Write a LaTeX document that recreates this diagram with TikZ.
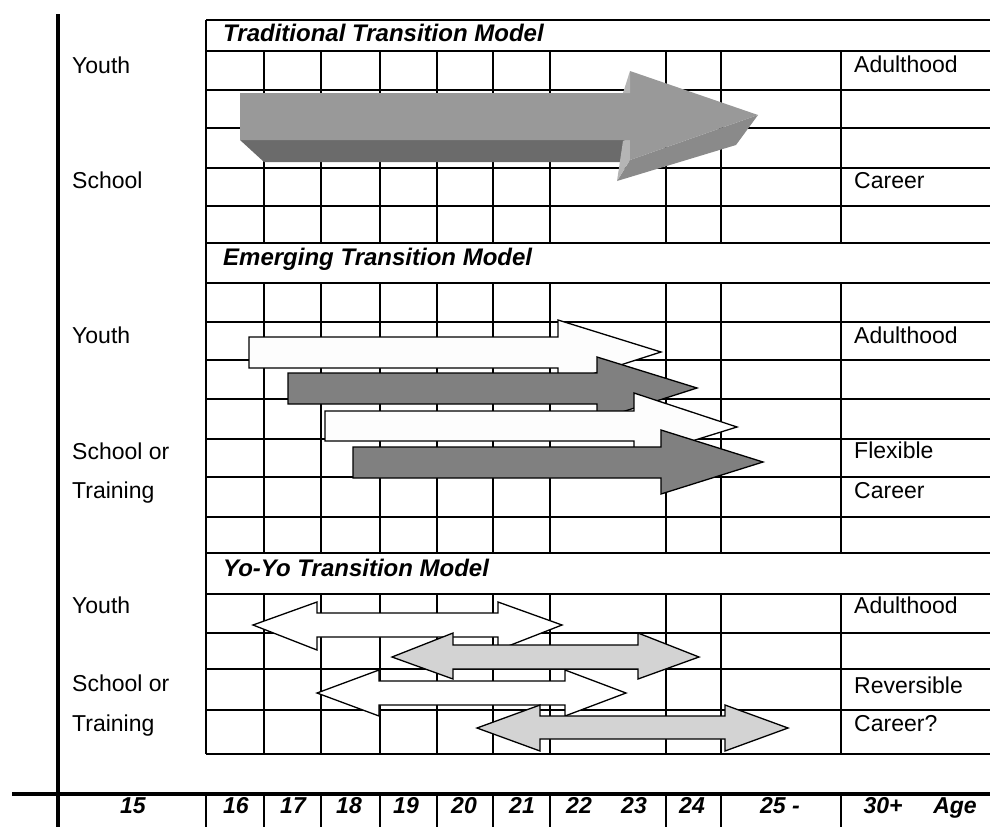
\documentclass[tikz,border=0pt]{standalone}
\usepackage{fontspec}
\setmainfont{Liberation Sans}
\definecolor{frontgray}{HTML}{999999}
\definecolor{bodydark}{HTML}{6B6B6B}
\definecolor{headside}{HTML}{8A8A8A}
\definecolor{bevel}{HTML}{B5B5B5}
\definecolor{midgray}{HTML}{808080}
\definecolor{lightgray}{HTML}{D3D3D3}
\definecolor{offwhite}{HTML}{FDFDFD}
\begin{document}
\begin{tikzpicture}[x=1pt,y=-1pt,
  gridline/.style={line width=1.8pt,black},
  sepline/.style={line width=2.8pt,black},
  axisline/.style={line width=3.2pt,black},
  lbl/.style={anchor=base west,inner sep=0pt,font=\fontsize{23}{27}\selectfont},
  ttl/.style={anchor=base west,inner sep=0pt,font=\fontsize{24}{28}\selectfont\bfseries\itshape},
  agelbl/.style={anchor=base,inner sep=0pt,font=\fontsize{23}{27}\selectfont\bfseries\itshape},
  whitearrow/.style={fill=offwhite,draw=black,line width=1.3pt,line join=miter},
  grayarrow/.style={fill=midgray,draw=black,line width=1.3pt,line join=miter},
  yoyogray/.style={fill=lightgray,draw=black,line width=1.3pt,line join=miter},
  yoyowhite/.style={fill=white,draw=black,line width=1.3pt,line join=miter}]
\useasboundingbox (0,0) rectangle (990,827);

% ---------- grid ----------
\foreach \y in {20,51,90,128,168,206,283,322,360,399,439,477,517,594,633,669,710,754}
  \draw[gridline] (206,\y) -- (990,\y);
\draw[sepline] (206,243) -- (990,243);
\draw[line width=2.2pt] (206,553) -- (990,553);
\draw[gridline] (206,20) -- (206,754);
\foreach \x in {264,321,380,437,493,550,666,721,841} {
  \draw[gridline] (\x,51) -- (\x,243);
  \draw[gridline] (\x,283) -- (\x,553);
  \draw[gridline] (\x,594) -- (\x,754);
}

% ---------- axes ----------
\coordinate (vtop) at (58,14);
\coordinate (vbot) at (58,827);
\coordinate (hleft) at (12,794);
\coordinate (hright) at (990,794);
\draw[axisline] (vtop) -- (vbot);
\draw[axisline] (hleft) -- (hright);
\foreach \x in {206,264,321,380,437,493,550,666,721,841}
  \draw[gridline] (\x,794) -- (\x,827);

% ---------- titles ----------
\node[ttl] (t1) at (223,41) {Traditional Transition Model};
\node[ttl] (t2) at (223,265) {Emerging Transition Model};
\node[ttl] (t3) at (223,576) {Yo-Yo Transition Model};

% ---------- left labels ----------
\node[lbl] (l1) at (72,73) {Youth};
\node[lbl] (l2) at (72,188) {School};
\node[lbl] (l3) at (72,343) {Youth};
\node[lbl] (l4) at (72,459) {School or};
\node[lbl] (l5) at (72,498) {Training};
\node[lbl] (l6) at (72,613) {Youth};
\node[lbl] (l7) at (72,691) {School or};
\node[lbl] (l8) at (72,731) {Training};

% ---------- right labels ----------
\node[lbl] (r1) at (854,72) {Adulthood};
\node[lbl] (r2) at (854,188) {Career};
\node[lbl] (r3) at (854,343) {Adulthood};
\node[lbl] (r4) at (854,458) {Flexible};
\node[lbl] (r5) at (854,498) {Career};
\node[lbl] (r6) at (854,613) {Adulthood};
\node[lbl] (r7) at (854,693) {Reversible};
\node[lbl] (r8) at (854,731) {Career?};

% ---------- age axis labels ----------
\node[agelbl] (a15) at (133,813) {15};
\node[agelbl] (a16) at (236,813) {16};
\node[agelbl] (a17) at (293,813) {17};
\node[agelbl] (a18) at (349,813) {18};
\node[agelbl] (a19) at (406,813) {19};
\node[agelbl] (a20) at (464,813) {20};
\node[agelbl] (a21) at (522,813) {21};
\node[agelbl] (a22) at (579,813) {22};
\node[agelbl] (a23) at (634,813) {23};
\node[agelbl] (a24) at (692,813) {24};
\node[agelbl] (a25) at (780,813) {25 -};
\node[agelbl] (a30) at (883,813) {30+};
\node[agelbl] (age) at (955,813) {Age};

% ---------- traditional 3D arrow ----------
\fill[bodydark] (240,140) -- (630,140) -- (630,162) -- (264,162) -- cycle;
\fill[headside] (630,160) -- (758,115) -- (736,145) -- (617,181) -- cycle;
\fill[bevel] (623,141) -- (630,138) -- (630,160) -- (617,181) -- cycle;
\fill[frontgray] (240,93) -- (630,93) -- (630,71) -- (758,115) -- (630,160) -- (630,140) -- (240,140) -- cycle;
\fill[bevel] (623,93) -- (630,71) -- (630,93) -- cycle;

% ---------- emerging arrows ----------
\draw[whitearrow] (249,337) -- (558,337) -- (558,320) -- (661,352) -- (558,385) -- (558,368) -- (249,368) -- cycle;
\draw[grayarrow] (288,373) -- (597,373) -- (597,357) -- (697,388) -- (597,420) -- (597,404) -- (288,404) -- cycle;
\draw[whitearrow] (325,411) -- (634,411) -- (634,393) -- (737,427) -- (634,459) -- (634,441) -- (325,441) -- cycle;
\draw[grayarrow] (353,447) -- (661,447) -- (661,430) -- (763,462) -- (661,494) -- (661,478) -- (353,478) -- cycle;

% ---------- yo-yo double arrows ----------
\draw[yoyowhite] (253,625) -- (317,602) -- (317,613) -- (498,613) -- (498,602) -- (562,625) -- (498,650) -- (498,637) -- (317,637) -- (317,650) -- cycle;
\draw[yoyogray] (392,657) -- (453,633) -- (453,645) -- (638,645) -- (638,633) -- (699,657) -- (638,679) -- (638,669) -- (453,669) -- (453,679) -- cycle;
\draw[yoyowhite] (317,693) -- (379,670) -- (379,681) -- (565,681) -- (565,670) -- (626,693) -- (565,716) -- (565,705) -- (379,705) -- (379,716) -- cycle;
\draw[yoyogray] (477,728) -- (540,705) -- (540,716) -- (725,716) -- (725,705) -- (788,728) -- (725,751) -- (725,739) -- (540,739) -- (540,751) -- cycle;
\end{tikzpicture}
\end{document}
